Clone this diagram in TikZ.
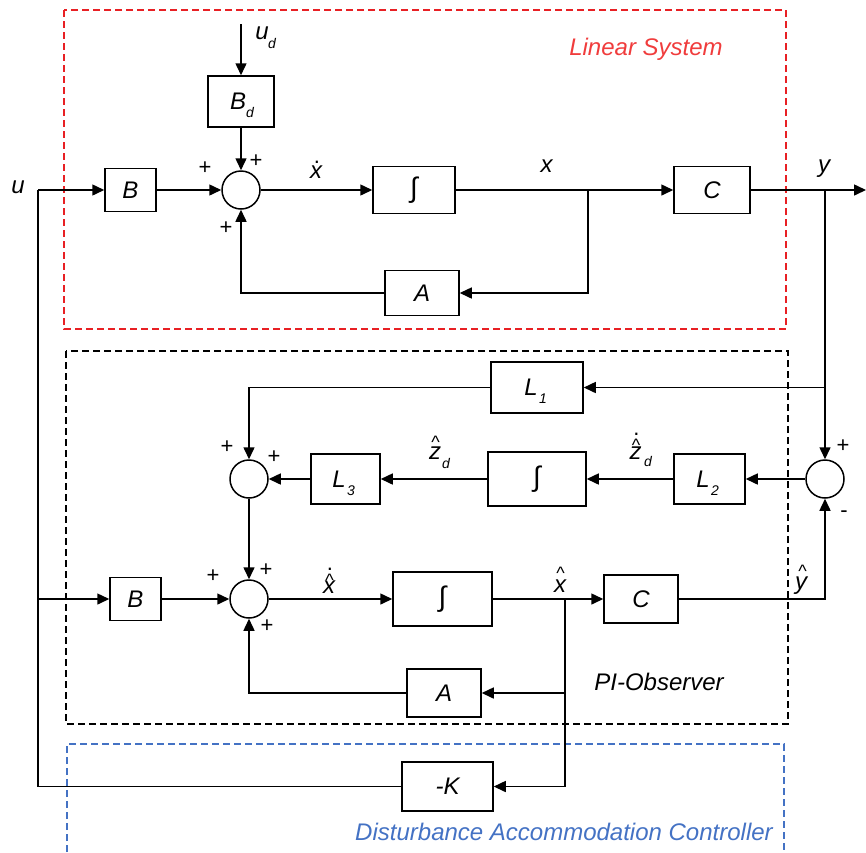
\documentclass[tikz,border=0pt]{standalone}
\usepackage{fontspec}
\setmainfont{Liberation Sans}
\usetikzlibrary{arrows.meta}
\definecolor{sysred}{RGB}{232,32,36}
\definecolor{txtred}{RGB}{240,60,60}
\definecolor{dacblue}{RGB}{68,114,196}
\begin{document}
\begin{tikzpicture}[x=1pt,y=-1pt,
  blk/.style={draw,line width=1.5pt,inner sep=0pt,font=\fontsize{24}{28}\selectfont\itshape},
  sumc/.style={draw,circle,line width=1.5pt,minimum size=38pt,inner sep=0pt},
  ln/.style={line width=1.5pt},
  arr/.style={ln,-{Triangle[length=12pt,width=11pt]}},
  lbl/.style={inner sep=0pt,anchor=base,font=\fontsize{24}{28}\selectfont\itshape},
  sublbl/.style={inner sep=0pt,anchor=base,font=\fontsize{14}{16}\selectfont\itshape},
  sgn/.style={inner sep=0pt,font=\fontsize{22}{26}\selectfont},
  caret/.style={inner sep=0pt,anchor=north,font=\fontsize{18}{20}\selectfont},
  dotlbl/.style={inner sep=0pt,anchor=base,font=\fontsize{22}{24}\selectfont},
  intg/.style={blk,font=\fontsize{28}{30}\selectfont},
  dsh/.style={line width=1.2pt,dash pattern=on 7pt off 4pt},
]
\useasboundingbox (0,0) rectangle (866,852);

% region frames
\draw[dsh,sysred] (64,10) rectangle (786,329);
\draw[dsh,black] (66,351) rectangle (788,724);
\draw[dsh,dacblue] (67,852) -- (67,744) -- (784,744) -- (784,852);
\node[lbl,text=txtred] (tls) at (646,55) {Linear System};
\node[lbl] (tpi) at (659,690) {PI-Observer};
\node[lbl,text=dacblue] (tdac) at (564,840) {Disturbance Accommodation Controller};

% ---------- linear system ----------
\coordinate (ud) at (241,24);
\node[blk,minimum width=66pt,minimum height=51pt] (Bd) at (241,101.5) {};
\node[blk,minimum width=51pt,minimum height=43pt] (B) at (130.5,190) {B};
\node[sumc] (S1) at (241,190) {};
\node[intg,minimum width=82pt,minimum height=47pt] (I1) at (414,190) {∫};
\node[blk,minimum width=76pt,minimum height=47pt] (C) at (712,190) {C};
\node[blk,minimum width=74pt,minimum height=45pt] (A) at (422,293) {A};
\coordinate (uc) at (38,190);
\coordinate (xb) at (588,190);
\coordinate (yb) at (825,190);
\coordinate (out) at (866,190);

\node[lbl] (lud) at (262,39) {u};
\node[sublbl] (ludd) at (272,48) {d};
\node[lbl] (lBd) at (238,109) {B};
\node[sublbl] (lBdd) at (250,117) {d};
\node[lbl] (lu) at (18,193) {u};
\node[lbl] (lx) at (546.5,172) {x};
\node[lbl] (ly) at (824,172) {y};
\node[lbl] (lxd) at (316,178) {x};
\node[dotlbl] (lxdd) at (317,163) {.};

\node[sgn] (p1) at (205,168) {+};
\node[sgn] (p2) at (256,161) {+};
\node[sgn] (p3) at (226,228) {+};

\draw[arr] (ud) -- (Bd);
\draw[arr] (Bd) -- (S1);
\draw[arr] (uc) -- (B);
\draw[arr] (B) -- (S1);
\draw[arr] (S1) -- (I1);
\draw[arr] (I1) -- (C);
\draw[arr] (xb) |- (A);
\draw[arr] (A) -| (S1);
\draw[arr] (C) -- (out);

% ---------- PI observer ----------
\node[blk,minimum width=92pt,minimum height=51pt] (L1) at (537,387.5) {};
\node[sumc] (S2) at (249,479) {};
\node[blk,minimum width=69pt,minimum height=50pt] (L3) at (345.5,479) {};
\node[intg,minimum width=98pt,minimum height=54pt] (I3) at (537,479) {∫};
\node[blk,minimum width=71pt,minimum height=50pt] (L2) at (709.5,479) {};
\node[sumc] (S4) at (825,479) {};
\node[blk,minimum width=51pt,minimum height=43pt] (B2) at (135.5,599) {B};
\node[sumc] (S3) at (249,599) {};
\node[intg,minimum width=99pt,minimum height=54pt] (I2) at (442.5,599) {∫};
\node[blk,minimum width=74pt,minimum height=48pt] (C2) at (641,599) {C};
\node[blk,minimum width=74pt,minimum height=48pt] (A2) at (444,693) {A};
\node[blk,minimum width=91pt,minimum height=49pt] (K) at (447.5,786.5) {-K};
\coordinate (l1b) at (825,387.5);
\coordinate (ub2) at (38,599);
\coordinate (xhb) at (565,599);

% block labels with subscripts
\node[lbl] (lL1) at (531,395) {L};
\node[sublbl] (lL1s) at (543,403) {1};
\node[lbl] (lL3) at (339,487) {L};
\node[sublbl] (lL3s) at (351,495) {3};
\node[lbl] (lL2) at (703,487) {L};
\node[sublbl] (lL2s) at (715,495) {2};

% signal labels
\node[lbl] (lzh) at (435,459) {z};
\node[caret] (lzhc) at (435.5,436) {\textasciicircum};
\node[sublbl] (lzhd) at (446,468) {d};
\node[lbl] (lzhdot) at (635.5,459) {z};
\node[caret] (lzhdotc) at (636,439) {\textasciicircum};
\node[dotlbl] (lzhdotd) at (636.5,435) {.};
\node[sublbl] (lzhdots) at (648,466) {d};
\node[lbl] (lxhd) at (329,593) {x};
\node[caret] (lxhdc) at (329.5,574) {\textasciicircum};
\node[dotlbl] (lxhdd) at (330,570) {.};
\node[lbl] (lxh) at (560,592) {x};
\node[caret] (lxhc) at (560.5,567) {\textasciicircum};
\node[lbl] (lyh) at (801,589) {y};
\node[caret] (lyhc) at (802.5,565) {\textasciicircum};

\node[sgn] (q1) at (227,447) {+};
\node[sgn] (q2) at (274,457) {+};
\node[sgn] (q3) at (213,576) {+};
\node[sgn] (q4) at (266,570) {+};
\node[sgn] (q5) at (267,626) {+};
\node[sgn] (q6) at (843,446) {+};
\node[sgn] (q7) at (844,514) {-};

\draw[arr] (yb) -- (S4);
\draw[arr] (l1b) -- (L1);
\draw[arr] (L1) -| (S2);
\draw[arr] (S4) -- (L2);
\draw[arr] (L2) -- (I3);
\draw[arr] (I3) -- (L3);
\draw[arr] (L3) -- (S2);
\draw[arr] (S2) -- (S3);
\draw[arr] (ub2) -- (B2);
\draw[arr] (B2) -- (S3);
\draw[arr] (S3) -- (I2);
\draw[arr] (I2) -- (C2);
\draw[arr] (C2) -| (S4);
\draw[arr] (xhb) |- (A2);
\draw[arr] (A2) -| (S3);
\draw[arr] (xhb) |- (K);
\draw[ln] (K) -| (uc);
\end{tikzpicture}
\end{document}
